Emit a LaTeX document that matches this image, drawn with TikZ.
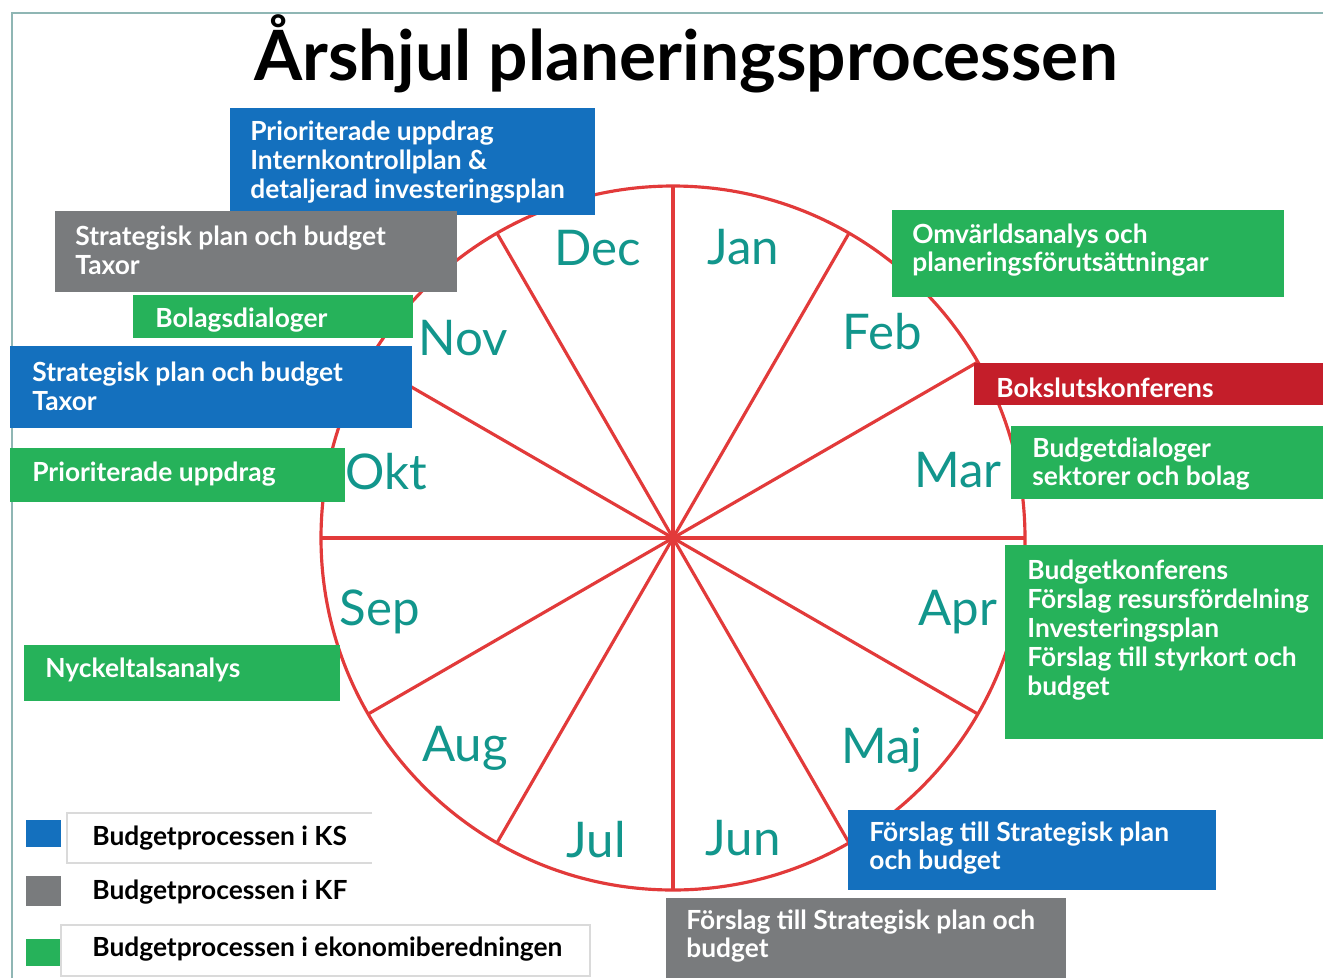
\documentclass[tikz,border=0pt]{standalone}
\usepackage{fontspec}
\setmainfont{Lato}
\definecolor{ksblue}{RGB}{20,112,190}
\definecolor{kfgray}{RGB}{121,123,125}
\definecolor{ekgreen}{RGB}{38,178,90}
\definecolor{bokred}{RGB}{196,30,42}
\definecolor{wheelred}{RGB}{226,58,58}
\definecolor{monthteal}{RGB}{18,150,140}
\definecolor{framecol}{RGB}{143,182,180}
\definecolor{legline}{RGB}{218,218,218}
\begin{document}
\begin{tikzpicture}[x=0.02cm,y=-0.02cm]
\tikzstyle{every node}+=[inner sep=0pt]
\tikzstyle{spoke}=[wheelred, line width=1.8pt]
\tikzstyle{month}=[monthteal, font=\fontsize{28}{30}\selectfont]
\tikzstyle{boxtext}=[anchor=west, align=left, white, font=\fontsize{15}{16.4}\selectfont\bfseries]
\tikzstyle{legtext}=[anchor=west, black, font=\fontsize{15}{16.4}\selectfont\bfseries]
\useasboundingbox (0,0) rectangle (1323,978);
\fill[white] (0,0) rectangle (1323,978);
\draw[framecol, line width=1.6pt] (12,978) -- (12,13) -- (1323,13);
\node[anchor=base, font=\fontsize{39.5}{44}\selectfont\bfseries] (title) at (686,80) {Årshjul planeringsprocessen};
\coordinate (hub) at (673,538);
\draw[spoke] (hub) circle [radius=352];
\foreach \a in {0,30,...,330}
  \draw[spoke] (hub) -- ++(\a:352);
\node[month] (jan) at (743,247) {Jan};
\node[month] (feb) at (882,332) {Feb};
\node[month] (mar) at (958,470) {Mar};
\node[month] (apr) at (958,612) {Apr};
\node[month] (maj) at (882,750) {Maj};
\node[month] (jun) at (743,838) {Jun};
\node[month] (jul) at (596,840) {Jul};
\node[month] (aug) at (465,748) {Aug};
\node[month] (sep) at (380,612) {Sep};
\node[month] (okt) at (386,472) {Okt};
\node[month] (nov) at (463,338) {Nov};
\node[month] (dec) at (598,248) {Dec};
\fill[ksblue] (230,108) rectangle (595,215);
\node[boxtext] (uppdrag) at (250,162) {Prioriterade uppdrag\\Internkontrollplan \&\\detaljerad investeringsplan};
\fill[kfgray] (55,211) rectangle (457,292);
\node[boxtext] (kfplan) at (75,250) {Strategisk plan och budget\\Taxor};
\fill[ekgreen] (133,295) rectangle (413,338);
\node[boxtext] (bolag) at (155,320) {Bolagsdialoger};
\fill[ksblue] (10,346) rectangle (412,428);
\node[boxtext] (ksplan) at (32,386) {Strategisk plan och budget\\Taxor};
\fill[ekgreen] (10,448) rectangle (345,502);
\node[boxtext] (prio) at (32,474) {Prioriterade uppdrag};
\fill[ekgreen] (24,645) rectangle (340,701);
\node[boxtext] (nyckel) at (45,670) {Nyckeltalsanalys};
\fill[ekgreen] (892,210) rectangle (1284,297);
\node[boxtext] (omv) at (912,250) {Omvärldsanalys och\\planeringsförutsättningar};
\fill[bokred] (974,363) rectangle (1323,405);
\node[boxtext] (boks) at (996,388) {Bokslutskonferens};
\fill[ekgreen] (1011,426) rectangle (1323,499);
\node[boxtext] (dialog) at (1032,464) {Budgetdialoger\\sektorer och bolag};
\fill[ekgreen] (1005,545) rectangle (1323,739);
\node[boxtext] (konf) at (1027,630) {Budgetkonferens\\Förslag resursfördelning\\Investeringsplan\\Förslag till styrkort och\\budget};
\fill[ksblue] (848,810) rectangle (1216,890);
\node[boxtext] (ksforslag) at (869,848) {Förslag till Strategisk plan\\och budget};
\fill[kfgray] (666,898) rectangle (1066,978);
\node[boxtext] (kfforslag) at (686,936) {Förslag till Strategisk plan och\\budget};
\fill[ksblue] (26,820) rectangle (61,847);
\fill[kfgray] (26,876) rectangle (61,906);
\fill[ekgreen] (26,939) rectangle (61,966);
\draw[legline, line width=0.8pt] (372,813) -- (67,813) -- (67,863) -- (372,863);
\draw[legline, line width=0.8pt] (61,925) rectangle (590,976);
\node[legtext] (legks) at (92,838) {Budgetprocessen i KS};
\node[legtext] (legkf) at (92,892) {Budgetprocessen i KF};
\node[legtext] (legek) at (92,949) {Budgetprocessen i ekonomiberedningen};
\end{tikzpicture}
\end{document}
